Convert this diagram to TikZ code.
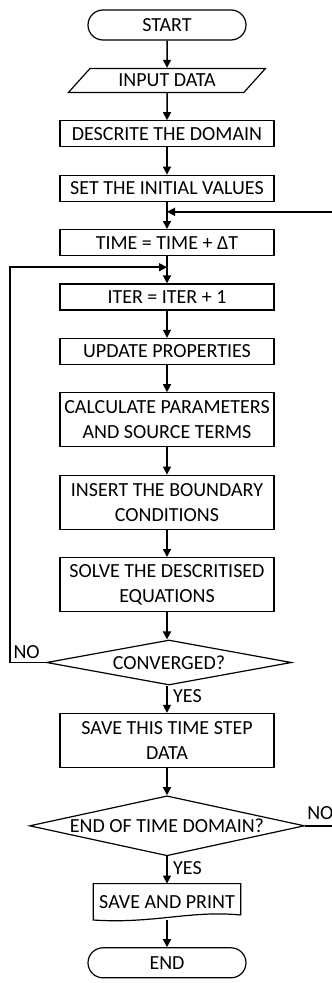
\documentclass[tikz,border=0pt]{standalone}
\usepackage{fontspec}
\setmainfont{Carlito}
\usepackage{tikz}
\usetikzlibrary{shapes.geometric, arrows.meta, positioning}
\tikzstyle{startstop} = [rectangle, rounded corners=15pt, minimum width=158pt, minimum height=30pt, text centered, draw=black, line width=1.2pt]
\tikzstyle{io} = [trapezium, trapezium left angle=31, trapezium right angle=149, trapezium stretches body, minimum width=197pt, minimum height=24pt, inner sep=0pt, text centered, draw=black, line width=1.2pt]
\tikzstyle{process} = [rectangle, minimum width=214pt, minimum height=26pt, inner sep=1pt, align=center, draw=black, line width=1.2pt]
\tikzstyle{decision} = [diamond, minimum width=245pt, minimum height=45pt, inner sep=0pt, draw=black, line width=1.2pt]
\tikzstyle{doc} = [rectangle, minimum width=147pt, minimum height=36pt, inner sep=0pt]
\tikzstyle{answer} = [inner sep=0pt]
\tikzstyle{arrow} = [line width=1.5pt, -{Triangle[length=8pt,width=8pt]}]

\begin{document}
\begin{tikzpicture}[x=1pt, y=1pt, node distance=27.2pt, font=\fontsize{20}{25}\selectfont]
\useasboundingbox (0,0) rectangle (332,-983);

\node (start) [startstop] at (167,-25) {START};
\node (input) [io, below=of start] {INPUT DATA};
\node (domain) [process, below=of input] {DESCRITE THE DOMAIN};
\node (initval) [process, below=of domain] {SET THE INITIAL VALUES};
\node (time) [process, below=of initval] {TIME = TIME + ΔT};
\node (iter) [process, below=of time] {ITER = ITER + 1};
\node (update) [process, below=of iter] {UPDATE PROPERTIES};
\node (calc) [process, minimum height=54pt, below=of update] {CALCULATE PARAMETERS\\AND SOURCE TERMS};
\node (bound) [process, minimum height=54pt, below=of calc] {INSERT THE BOUNDARY\\CONDITIONS};
\node (solve) [process, minimum height=54pt, below=of bound] {SOLVE THE DESCRITISED\\EQUATIONS};
\node (conv) [decision, below=of solve, xshift=2pt] {\makebox[0pt]{CONVERGED?}};
\node (savestep) [process, minimum height=54pt, below=of solve, yshift=-73.4pt] {SAVE THIS TIME STEP\\DATA};
\node (endtime) [decision, minimum width=275pt, minimum height=60pt, below=of savestep] {\makebox[0pt]{END OF TIME DOMAIN?}};
\node (saveprint) [doc, below=of endtime] {SAVE AND PRINT};
\node (end) [startstop, below=of saveprint] {END};

% wavy document outline
\draw [line width=1.2pt] ([yshift=5pt]saveprint.south east) -- (saveprint.north east) -- (saveprint.north west) -- (saveprint.south west)
  .. controls ([xshift=60pt,yshift=-4pt]saveprint.south west) and ([xshift=-50pt,yshift=10pt]saveprint.south east) .. ([yshift=5pt]saveprint.south east);

\coordinate (jtime) at ([yshift=-10pt]initval.south);
\coordinate (jiter) at ([yshift=-11pt]time.south);

\draw [arrow] (start) -- (input);
\draw [arrow] (input) -- (domain);
\draw [arrow] (domain) -- (initval);
\draw [arrow] (initval) -- (time);
\draw [arrow] (time) -- (iter);
\draw [arrow] (iter) -- (update);
\draw [arrow] (update) -- (calc);
\draw [arrow] (calc) -- (bound);
\draw [arrow] (bound) -- (solve);
\draw [arrow] (solve) -- (solve |- conv.north);
\draw [arrow] (solve |- conv.south) -- (savestep);
\draw [arrow] (savestep) -- (endtime);
\draw [arrow] (endtime) -- (saveprint);
\draw [arrow] (saveprint) -- (end);

\draw [arrow] (conv.west) -- ++(-36pt,0) |- (jiter);
\draw [arrow] (endtime.east) -- ++(40pt,0) |- (jtime);

\node [answer, anchor=base east] at ([xshift=-6pt,yshift=4pt]conv.west) {NO};
\node [answer, anchor=north west] at ([xshift=6pt,yshift=-4pt]solve |- conv.south) {YES};
\node [answer, anchor=base west] at ([xshift=2pt,yshift=6pt]endtime.east) {NO};
\node [answer, anchor=north west] at ([xshift=6pt,yshift=-5pt]endtime.south) {YES};

\end{tikzpicture}
\end{document}
